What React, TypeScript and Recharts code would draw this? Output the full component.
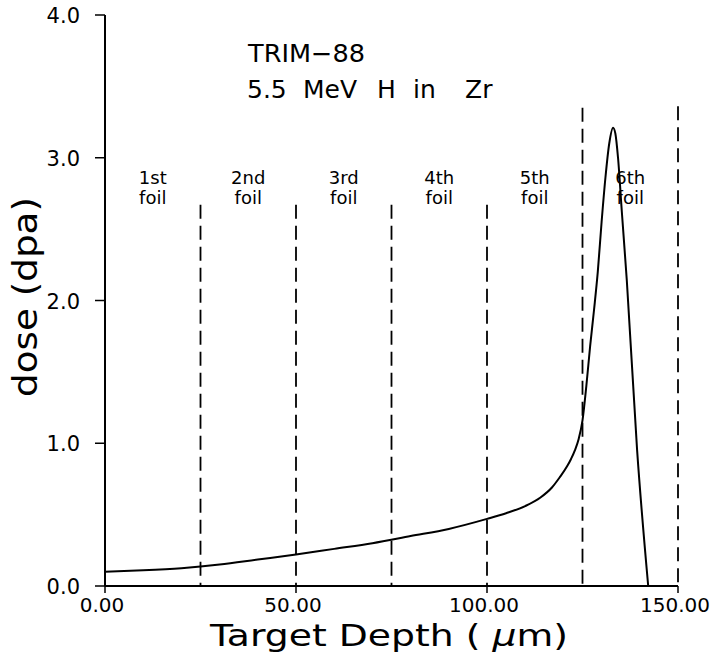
import React from 'react';
import { LineChart, Line, XAxis, YAxis, ReferenceLine, ReferenceDot } from 'recharts';

// TRIM-88 damage profile, 5.5 MeV H in Zr
const depth = [0, 10, 20, 30, 40, 50, 60, 70, 80, 90, 100, 105, 110, 114, 117, 119, 121, 122, 123, 124, 125, 126, 127, 128, 129, 130, 131, 132, 133, 133.6, 134.3, 135.3, 136.6, 139.3, 142.2];
const dose = [0.1, 0.11, 0.125, 0.15, 0.185, 0.22, 0.26, 0.3, 0.35, 0.4, 0.47, 0.51, 0.56, 0.62, 0.69, 0.76, 0.84, 0.89, 0.95, 1.03, 1.16, 1.4, 1.68, 1.93, 2.2, 2.55, 2.86, 3.1, 3.21, 3.17, 3.0, 2.62, 2.14, 0.95, 0];

const foilEdges = [25, 50, 75, 100, 125, 150];
const edgeTops = [2.67, 2.67, 2.67, 2.67, 3.35, 3.36];
const foilNames = ['1st', '2nd', '3rd', '4th', '5th', '6th'];
const foilMids = [12.5, 37.5, 62.5, 87.5, 112.5, 137.5];

const xTicks = [0, 50, 100, 150];
const yTicks = [0, 1, 2, 3, 4];

const data = depth.map((d, i) => ({ depth: d, dose: dose[i] }));

const FONT = '"DejaVu Sans", sans-serif';

const XTick = ({ x, y, payload }: any) => (
    <text x={x - 3} y={y + 19} textAnchor="middle" fontFamily={FONT} fontSize={20} fill="#000">
        {Number(payload.value).toFixed(2)}
    </text>
);

const YTick = ({ x, y, payload }: any) => (
    <text x={x} y={y + 8} textAnchor="end" fontFamily={FONT} fontSize={21} fill="#000">
        {Number(payload.value).toFixed(1)}
    </text>
);

// two-line foil caption, each line its own text
const foilLabel = (name: string) => (props: any) => {
    const vb = props.viewBox || {};
    return (
        <g>
            <text x={vb.x} y={vb.y - 2} textAnchor="middle" fontFamily={FONT} fontSize={18} fill="#000">{name}</text>
            <text x={vb.x} y={vb.y + 18} textAnchor="middle" fontFamily={FONT} fontSize={18} fill="#000">foil</text>
        </g>
    );
};

export default function App() {
    return (
        <div style={{ position: 'absolute', left: 0, top: 0, width: 711, height: 655, background: '#fff' }}>
            <LineChart width={711} height={655} data={data} margin={{ top: 15, right: 33, bottom: 0, left: 0 }}>
                <XAxis
                    dataKey="depth"
                    type="number"
                    domain={[0, 150]}
                    ticks={xTicks}
                    height={69}
                    tickSize={7}
                    tickMargin={0}
                    tick={<XTick />}
                    axisLine={{ stroke: '#000', strokeWidth: 2 }}
                    tickLine={{ stroke: '#000', strokeWidth: 1.5 }}
                />
                <YAxis
                    type="number"
                    domain={[0, 4]}
                    ticks={yTicks}
                    width={105}
                    tickSize={10}
                    tickMargin={15}
                    tick={<YTick />}
                    axisLine={{ stroke: '#000', strokeWidth: 2 }}
                    tickLine={{ stroke: '#000', strokeWidth: 1.5 }}
                />
                {foilEdges.map((x, i) => (
                    <ReferenceLine
                        key={`edge-${x}`}
                        segment={[{ x, y: edgeTops[i] }, { x, y: 0 }]}
                        stroke="#000"
                        strokeWidth={1.8}
                        strokeDasharray="14 7"
                    />
                ))}
                {foilMids.map((x, i) => (
                    <ReferenceDot
                        key={`foil-${i}`}
                        x={x}
                        y={2.8}
                        r={0}
                        fill="none"
                        stroke="none"
                        label={foilLabel(foilNames[i])}
                    />
                ))}
                <Line
                    type="monotone"
                    dataKey="dose"
                    stroke="#000"
                    strokeWidth={2}
                    dot={false}
                    isAnimationActive={false}
                />
            </LineChart>
            <svg width={711} height={655} style={{ position: 'absolute', left: 0, top: 0, pointerEvents: 'none' }}>
                <text x={248} y={62} fontFamily={FONT} fontSize={25} textLength={117} lengthAdjust="spacingAndGlyphs">TRIM−88</text>
                <text y={98} fontFamily={FONT} fontSize={25}>
                    <tspan x={247}>5.5</tspan>
                    <tspan x={303}>MeV</tspan>
                    <tspan x={377}>H</tspan>
                    <tspan x={413}>in</tspan>
                    <tspan x={465}>Zr</tspan>
                </text>
                <text
                    x={389}
                    y={646}
                    textAnchor="middle"
                    fontFamily={FONT}
                    fontSize={30}
                    textLength={358}
                    lengthAdjust="spacingAndGlyphs"
                >
                    Target Depth ( <tspan fontStyle="italic">µ</tspan>m)
                </text>
                <text
                    x={37}
                    y={297}
                    transform="rotate(-90 37 297)"
                    textAnchor="middle"
                    fontFamily={FONT}
                    fontSize={34}
                    textLength={200}
                    lengthAdjust="spacingAndGlyphs"
                >
                    dose (dpa)
                </text>
            </svg>
        </div>
    );
}
